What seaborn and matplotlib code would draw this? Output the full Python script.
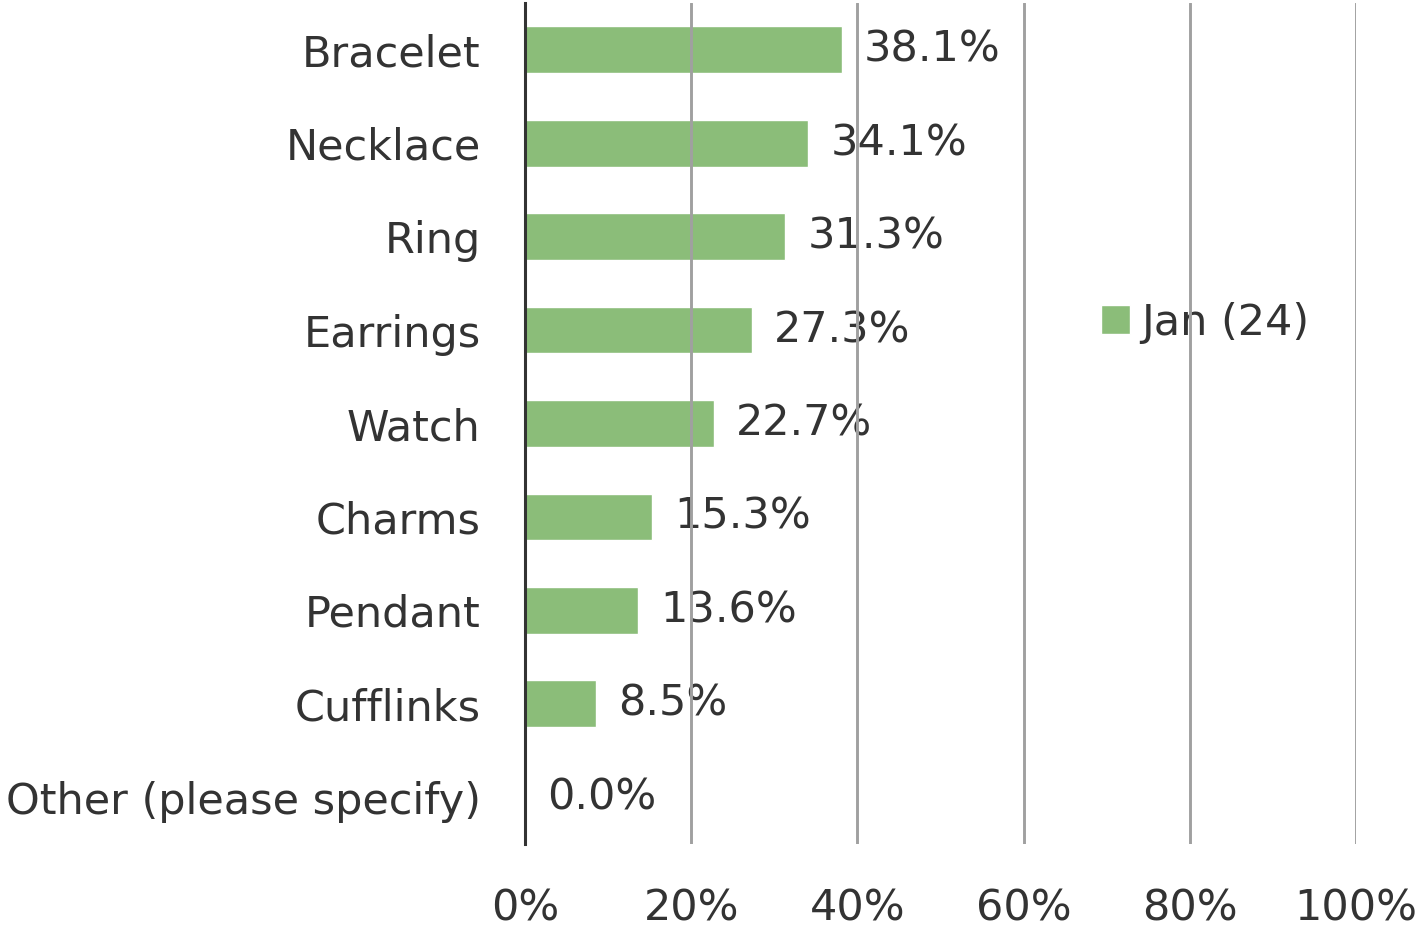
import pandas as pd
import seaborn as sns
import matplotlib.pyplot as plt

# data
items = ['Bracelet', 'Necklace', 'Ring', 'Earrings', 'Watch', 'Charms',
         'Pendant', 'Cufflinks', 'Other (please specify)']
share = [38.1, 34.1, 31.3, 27.3, 22.7, 15.3, 13.6, 8.5, 0.0]
series_name = 'Jan (24)'
x_ticks = [0, 20, 40, 60, 80, 100]

bar_color = '#8bbd79'
text_color = '#333333'
grid_color = '#a0a0a0'

df = pd.DataFrame({'item': items, 'share': share, 'series': series_name})

sns.set_style('white')
plt.rcParams['font.family'] = ['DejaVu Sans']
plt.rcParams['font.size'] = 31

fig = plt.figure(figsize=(14.24, 9.32), dpi=100)
ax = fig.add_axes([0.3687, 0.0944, 0.5836, 0.9024])

sns.barplot(data=df, x='share', y='item', hue='series', palette=[bar_color],
            width=0.5, orient='h', ax=ax, saturation=1)

ax.bar_label(ax.containers[0], fmt='{:.1f}%', padding=16, color=text_color, fontsize=31)

ax.set_xlim(0, 100)
ax.set_ylim(8.5, -0.5)
ax.set_xticks(x_ticks)
ax.set_xticklabels([f'{t}%' for t in x_ticks])
ax.set_xlabel('')
ax.set_ylabel('')
ax.tick_params(axis='x', length=0, pad=31, colors=text_color, labelsize=31)
ax.tick_params(axis='y', length=0, pad=32, colors=text_color, labelsize=31)

# gridlines sit on top of bars and labels in the original
ax.grid(axis='x', color=grid_color, linewidth=2.1)
ax.grid(axis='y', visible=False)
for side in ['top', 'right', 'bottom']:
    ax.spines[side].set_visible(False)
ax.spines['left'].set_color('#333333')
ax.spines['left'].set_linewidth(2.2)
ax.spines['left'].set_zorder(11)

ax.legend(loc='center left', bbox_to_anchor=(0.667, 0.62), frameon=False,
          borderpad=0, handlelength=0.68, handleheight=0.68, handletextpad=0.25,
          labelcolor=text_color, fontsize=31)
ax.xaxis.set_zorder(10)

fig.savefig('out.png', dpi=100)
